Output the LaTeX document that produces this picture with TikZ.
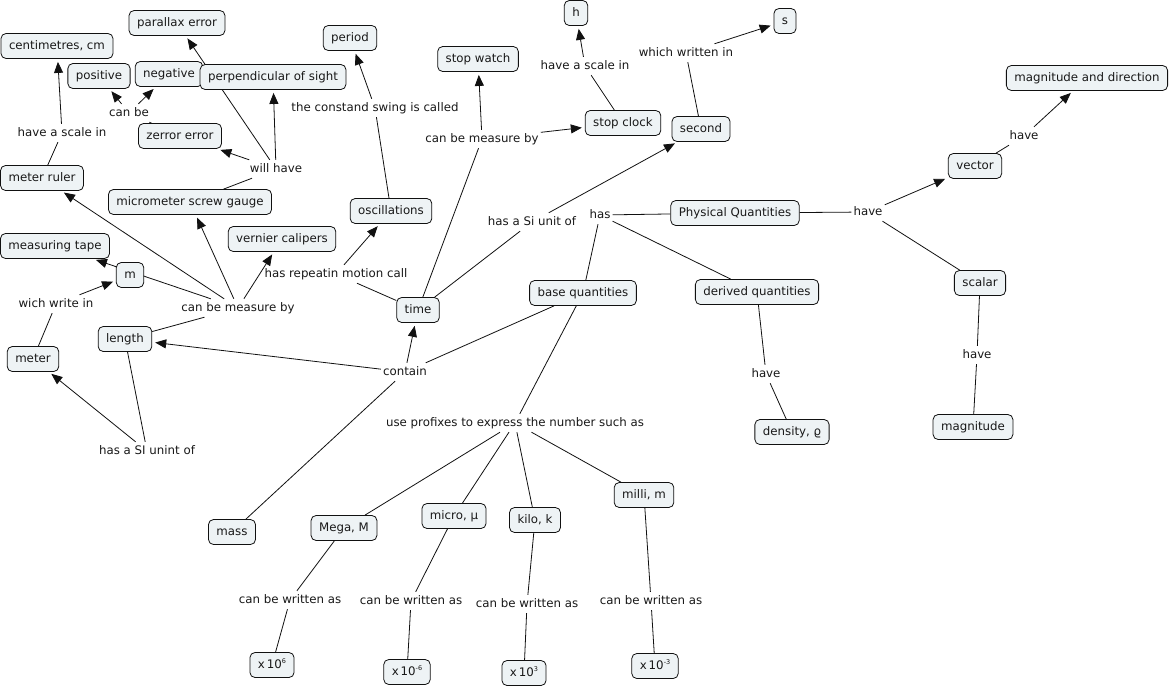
\documentclass[tikz,border=0pt]{standalone}
\usepackage{fontspec}
\setmainfont{DejaVu Sans}
\usetikzlibrary{arrows.meta,backgrounds}
\definecolor{cfill}{HTML}{EEF3F5}
\definecolor{cline}{HTML}{111111}
\begin{document}
\begin{tikzpicture}[x=1pt,y=-1pt,
  every node/.style={font=\fontsize{11.8}{14}\selectfont, text=black!90},
  concept/.style={draw=cline, line width=0.8pt, rounded corners=5pt, fill=cfill,
     inner xsep=8pt, inner ysep=6.5pt, text height=9pt, text depth=3pt},
  lnk/.style={inner xsep=2pt, inner ysep=3pt, text height=9pt, text depth=3pt},
  ln/.style={draw=cline, line width=0.8pt},
  ar/.style={draw=cline, line width=0.8pt, -{Triangle[length=11pt,width=9pt]}, shorten >=3pt}]
\useasboundingbox (0,0) rectangle (1172,689);
\newcommand{\ten}[1]{x\,10\raisebox{0.75ex}{\fontsize{6.5}{7}\selectfont #1}}
% concepts
\node[concept] (cm) at (57,46) {centimetres, cm};
\node[concept] (parallax) at (177,23) {parallax error};
\node[concept] (positive) at (99,76) {positive};
\node[concept] (negative) at (169,74) {negative};
\node[concept] (perp) at (273,77) {perpendicular of sight};
\node[concept] (period) at (350,38) {period};
\node[concept] (zerror) at (180,136) {zerror error};
\node[concept] (ruler) at (42,178) {meter ruler};
\node[concept] (micro) at (190,202) {micrometer screw gauge};
\node[concept] (vernier) at (282,239) {vernier calipers};
\node[concept] (osc) at (391,211) {oscillations};
\node[concept] (tape) at (55,246) {measuring tape};
\node[concept] (m) at (130,275) {m};
\node[concept] (length) at (125,339) {length};
\node[concept] (meter) at (33,359) {meter};
\node[concept] (time) at (418,310) {time};
\node[concept] (mass) at (232,532) {mass};
\node[concept] (mega) at (344,528) {Mega, M};
\node[concept] (microp) at (454,516) {micro, µ};
\node[concept] (kilo) at (535,520) {kilo, k};
\node[concept] (milli) at (644,495) {milli, m};
\node[concept] (t6) at (272,665) {\ten{6}};
\node[concept] (tm6) at (407,672) {\ten{-6}};
\node[concept] (t3) at (524,673) {\ten{3}};
\node[concept] (tm3) at (655,666) {\ten{-3}};
\node[concept] (watch) at (478,59) {stop watch};
\node[concept] (h) at (576,13) {h};
\node[concept] (s) at (785,21) {s};
\node[concept] (clock) at (623,123) {stop clock};
\node[concept] (second) at (701,129) {second};
\node[concept] (pq) at (735,213) {Physical Quantities};
\node[concept] (base) at (583,293) {base quantities};
\node[concept] (derived) at (757,292) {derived quantities};
\node[concept] (magdir) at (1087,78) {magnitude and direction};
\node[concept] (vector) at (975,166) {vector};
\node[concept] (scalar) at (980,283) {scalar};
\node[concept] (mag) at (973,427) {magnitude};
\node[concept] (density) at (792,432) {density, ϱ};
% linking phrases
\node[lnk] (l1) at (62,133) {have a scale in};
\node[lnk] (l2) at (129,113) {can be};
\node[lnk] (l3) at (276,169) {will have};
\node[lnk] (l4) at (375,108) {the constand swing is called};
\node[lnk] (l5) at (238,308) {can be measure by};
\node[lnk] (l6) at (56,304) {wich write in};
\node[lnk] (l7) at (336,274) {has repeatin motion call};
\node[lnk] (l8) at (147,451) {has a SI unint of};
\node[lnk] (l9) at (405,372) {contain};
\node[lnk] (l10) at (515,423) {use profixes to express the number such as};
\node[lnk] (w1) at (290,600) {can be written as};
\node[lnk] (w2) at (411,601) {can be written as};
\node[lnk] (w3) at (527,604) {can be written as};
\node[lnk] (w4) at (651,601) {can be written as};
\node[lnk] (l11) at (482,139) {can be measure by};
\node[lnk] (l12) at (532,222) {has a Si unit of};
\node[lnk] (l13) at (600,215) {has};
\node[lnk] (l14) at (585,66) {have a scale in};
\node[lnk] (l15) at (686,53) {which written in};
\node[lnk] (l16) at (868,212) {have};
\node[lnk] (l17) at (1024,136) {have};
\node[lnk] (l18) at (766,374) {have};
\node[lnk] (l19) at (977,355) {have};
% connectors
\begin{scope}[on background layer]
\fill[white] (0,0) rectangle (1172,689);
\draw[ln] (ruler) -- (l1); \draw[ar] (l1) -- (cm);
\draw[ln] (zerror) -- (l2); \draw[ar] (l2) -- (positive); \draw[ar] (l2) -- (negative);
\draw[ln] (micro) -- (l3); \draw[ar] (l3) -- (zerror); \draw[ar] (l3) -- (perp); \draw[ar] (l3) -- (parallax);
\draw[ln] (osc) -- (l4); \draw[ar] (l4) -- (period);
\draw[ln] (length) -- (l5); \draw[ar] (l5) -- (ruler); \draw[ar] (l5) -- (micro);
\draw[ar] (l5) -- (vernier); \draw[ar] (l5) -- (tape);
\draw[ln] (meter) -- (l6); \draw[ar] (l6) -- (m);
\draw[ln] (time) -- (l7); \draw[ar] (l7) -- (osc);
\draw[ln] (length) -- (l8); \draw[ar] (l8) -- (meter);
\draw[ln] (base) -- (l9); \draw[ar] (l9) -- (length); \draw[ar] (l9) -- (time); \draw[ln] (l9) -- (mass);
\draw[ln] (base) -- (l10); \draw[ln] (l10) -- (mega); \draw[ln] (l10) -- (microp);
\draw[ln] (l10) -- (kilo); \draw[ln] (l10) -- (milli);
\draw[ln] (mega) -- (w1); \draw[ln] (w1) -- (t6);
\draw[ln] (microp) -- (w2); \draw[ln] (w2) -- (tm6);
\draw[ln] (kilo) -- (w3); \draw[ln] (w3) -- (t3);
\draw[ln] (milli) -- (w4); \draw[ln] (w4) -- (tm3);
\draw[ln] (time) -- (l11); \draw[ar] (l11) -- (watch); \draw[ar] (l11) -- (clock);
\draw[ln] (time) -- (l12); \draw[ar] (l12) -- (second);
\draw[ln] (clock) -- (l14); \draw[ar] (l14) -- (h);
\draw[ln] (second) -- (l15); \draw[ar] (l15) -- (s);
\draw[ln] (pq) -- (l13); \draw[ln] (l13) -- (base); \draw[ln] (l13) -- (derived);
\draw[ln] (pq) -- (l16); \draw[ar] (l16) -- (vector); \draw[ln] (l16) -- (scalar);
\draw[ln] (vector) -- (l17); \draw[ar] (l17) -- (magdir);
\draw[ln] (derived) -- (l18); \draw[ln] (l18) -- (density);
\draw[ln] (scalar) -- (l19); \draw[ln] (l19) -- (mag);
\end{scope}
\end{tikzpicture}
\end{document}
